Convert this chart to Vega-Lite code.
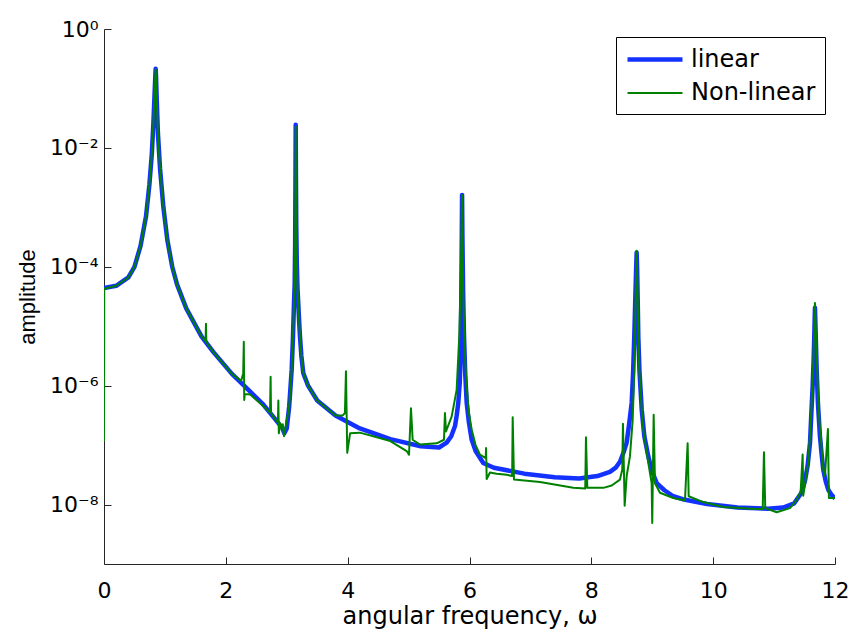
{
"$schema":"https://vega.github.io/schema/vega-lite/v6.json",
"width":731,"height":535,
"autosize":{"type":"none"},
"padding":{"left":104,"top":29,"right":21,"bottom":73},
"background":"white",
"config":{"view":{"stroke":null},"font":"DejaVu Sans",
"axis":{"domainColor":"#262626","tickColor":"#262626","labelColor":"black","titleColor":"black","labelFont":"DejaVu Sans","titleFont":"DejaVu Sans","labelFontSize":22,"titleFontSize":24,"titleFontWeight":"normal","grid":false,"tickSize":-7,"domainWidth":1,"tickWidth":1}},
"datasets":{
"lin":[
{"omega":0,"amp":4.37e-5,"series":"linear"},
{"omega":0.2,"amp":4.79e-5,"series":"linear"},
{"omega":0.4,"amp":6.61e-5,"series":"linear"},
{"omega":0.5,"amp":1.0e-4,"series":"linear"},
{"omega":0.6,"amp":2.24e-4,"series":"linear"},
{"omega":0.69,"amp":7.08e-4,"series":"linear"},
{"omega":0.745,"amp":2.40e-3,"series":"linear"},
{"omega":0.785,"amp":7.94e-3,"series":"linear"},
{"omega":0.81,"amp":2.51e-2,"series":"linear"},
{"omega":0.828,"amp":7.08e-2,"series":"linear"},
{"omega":0.842,"amp":1.58e-1,"series":"linear"},
{"omega":0.848,"amp":2.14e-1,"series":"linear"},
{"omega":0.854,"amp":1.58e-1,"series":"linear"},
{"omega":0.866,"amp":6.31e-2,"series":"linear"},
{"omega":0.885,"amp":1.78e-2,"series":"linear"},
{"omega":0.92,"amp":4.47e-3,"series":"linear"},
{"omega":0.975,"amp":1.0e-3,"series":"linear"},
{"omega":1.04,"amp":2.82e-4,"series":"linear"},
{"omega":1.12,"amp":1.0e-4,"series":"linear"},
{"omega":1.2,"amp":5.01e-5,"series":"linear"},
{"omega":1.35,"amp":2.0e-5,"series":"linear"},
{"omega":1.6,"amp":6.76e-6,"series":"linear"},
{"omega":1.8,"amp":3.63e-6,"series":"linear"},
{"omega":2.1,"amp":1.58e-6,"series":"linear"},
{"omega":2.4,"amp":7.94e-7,"series":"linear"},
{"omega":2.6,"amp":5.01e-7,"series":"linear"},
{"omega":2.8,"amp":2.82e-7,"series":"linear"},
{"omega":2.93,"amp":1.91e-7,"series":"linear"},
{"omega":2.96,"amp":1.58e-7,"series":"linear"},
{"omega":3.0,"amp":1.91e-7,"series":"linear"},
{"omega":3.04,"amp":4.47e-7,"series":"linear"},
{"omega":3.06,"amp":8.91e-7,"series":"linear"},
{"omega":3.081,"amp":1.86e-6,"series":"linear"},
{"omega":3.1,"amp":5.62e-6,"series":"linear"},
{"omega":3.119,"amp":2.45e-5,"series":"linear"},
{"omega":3.13,"amp":5.01e-5,"series":"linear"},
{"omega":3.138,"amp":2.51e-4,"series":"linear"},
{"omega":3.143,"amp":2.51e-3,"series":"linear"},
{"omega":3.147,"amp":2.45e-2,"series":"linear"},
{"omega":3.151,"amp":3.16e-3,"series":"linear"},
{"omega":3.156,"amp":5.01e-4,"series":"linear"},
{"omega":3.165,"amp":1.12e-4,"series":"linear"},
{"omega":3.176,"amp":4.47e-5,"series":"linear"},
{"omega":3.189,"amp":2.45e-5,"series":"linear"},
{"omega":3.2,"amp":1.41e-5,"series":"linear"},
{"omega":3.217,"amp":6.76e-6,"series":"linear"},
{"omega":3.24,"amp":3.16e-6,"series":"linear"},
{"omega":3.272,"amp":1.62e-6,"series":"linear"},
{"omega":3.35,"amp":1.0e-6,"series":"linear"},
{"omega":3.5,"amp":5.62e-7,"series":"linear"},
{"omega":3.8,"amp":3.16e-7,"series":"linear"},
{"omega":4.2,"amp":1.91e-7,"series":"linear"},
{"omega":4.7,"amp":1.26e-7,"series":"linear"},
{"omega":5.2,"amp":9.55e-8,"series":"linear"},
{"omega":5.5,"amp":9.12e-8,"series":"linear"},
{"omega":5.625,"amp":1.10e-7,"series":"linear"},
{"omega":5.7,"amp":1.41e-7,"series":"linear"},
{"omega":5.762,"amp":2.09e-7,"series":"linear"},
{"omega":5.79,"amp":3.16e-7,"series":"linear"},
{"omega":5.816,"amp":5.13e-7,"series":"linear"},
{"omega":5.84,"amp":1.12e-6,"series":"linear"},
{"omega":5.855,"amp":3.55e-6,"series":"linear"},
{"omega":5.862,"amp":1.26e-5,"series":"linear"},
{"omega":5.868,"amp":6.31e-5,"series":"linear"},
{"omega":5.874,"amp":3.98e-4,"series":"linear"},
{"omega":5.878,"amp":1.62e-3,"series":"linear"},
{"omega":5.884,"amp":3.16e-4,"series":"linear"},
{"omega":5.895,"amp":3.98e-5,"series":"linear"},
{"omega":5.91,"amp":6.76e-6,"series":"linear"},
{"omega":5.93,"amp":1.58e-6,"series":"linear"},
{"omega":5.954,"amp":5.13e-7,"series":"linear"},
{"omega":5.99,"amp":2.40e-7,"series":"linear"},
{"omega":6.036,"amp":1.23e-7,"series":"linear"},
{"omega":6.1,"amp":7.94e-8,"series":"linear"},
{"omega":6.226,"amp":5.01e-8,"series":"linear"},
{"omega":6.4,"amp":4.17e-8,"series":"linear"},
{"omega":6.9,"amp":3.31e-8,"series":"linear"},
{"omega":7.4,"amp":2.88e-8,"series":"linear"},
{"omega":7.8,"amp":2.75e-8,"series":"linear"},
{"omega":8.1,"amp":3.02e-8,"series":"linear"},
{"omega":8.306,"amp":3.55e-8,"series":"linear"},
{"omega":8.4,"amp":4.17e-8,"series":"linear"},
{"omega":8.47,"amp":5.25e-8,"series":"linear"},
{"omega":8.53,"amp":7.59e-8,"series":"linear"},
{"omega":8.58,"amp":1.10e-7,"series":"linear"},
{"omega":8.62,"amp":2.24e-7,"series":"linear"},
{"omega":8.662,"amp":5.13e-7,"series":"linear"},
{"omega":8.685,"amp":1.58e-6,"series":"linear"},
{"omega":8.705,"amp":6.76e-6,"series":"linear"},
{"omega":8.72,"amp":2.51e-5,"series":"linear"},
{"omega":8.735,"amp":8.91e-5,"series":"linear"},
{"omega":8.744,"amp":1.74e-4,"series":"linear"},
{"omega":8.752,"amp":8.91e-5,"series":"linear"},
{"omega":8.762,"amp":2.51e-5,"series":"linear"},
{"omega":8.771,"amp":6.76e-6,"series":"linear"},
{"omega":8.79,"amp":1.78e-6,"series":"linear"},
{"omega":8.827,"amp":3.98e-7,"series":"linear"},
{"omega":8.87,"amp":1.41e-7,"series":"linear"},
{"omega":8.935,"amp":6.46e-8,"series":"linear"},
{"omega":9.0,"amp":3.55e-8,"series":"linear"},
{"omega":9.073,"amp":2.29e-8,"series":"linear"},
{"omega":9.2,"amp":1.74e-8,"series":"linear"},
{"omega":9.345,"amp":1.38e-8,"series":"linear"},
{"omega":9.5,"amp":1.23e-8,"series":"linear"},
{"omega":9.9,"amp":1.02e-8,"series":"linear"},
{"omega":10.4,"amp":8.91e-9,"series":"linear"},
{"omega":10.9,"amp":8.51e-9,"series":"linear"},
{"omega":11.15,"amp":8.91e-9,"series":"linear"},
{"omega":11.33,"amp":1.05e-8,"series":"linear"},
{"omega":11.45,"amp":1.58e-8,"series":"linear"},
{"omega":11.507,"amp":2.51e-8,"series":"linear"},
{"omega":11.55,"amp":4.47e-8,"series":"linear"},
{"omega":11.59,"amp":1.10e-7,"series":"linear"},
{"omega":11.61,"amp":3.16e-7,"series":"linear"},
{"omega":11.633,"amp":9.77e-7,"series":"linear"},
{"omega":11.648,"amp":2.51e-6,"series":"linear"},
{"omega":11.66,"amp":6.76e-6,"series":"linear"},
{"omega":11.667,"amp":1.41e-5,"series":"linear"},
{"omega":11.671,"amp":2.04e-5,"series":"linear"},
{"omega":11.677,"amp":1.26e-5,"series":"linear"},
{"omega":11.685,"amp":6.31e-6,"series":"linear"},
{"omega":11.699,"amp":1.86e-6,"series":"linear"},
{"omega":11.72,"amp":5.01e-7,"series":"linear"},
{"omega":11.753,"amp":1.41e-7,"series":"linear"},
{"omega":11.78,"amp":7.08e-8,"series":"linear"},
{"omega":11.807,"amp":3.89e-8,"series":"linear"},
{"omega":11.85,"amp":2.40e-8,"series":"linear"},
{"omega":11.889,"amp":1.78e-8,"series":"linear"},
{"omega":11.94,"amp":1.48e-8,"series":"linear"},
{"omega":12.0,"amp":1.26e-8,"series":"linear"}
],
"nl":[
{"omega":0,"amp":1.15e-7,"series":"Non-linear"},
{"omega":0.004,"amp":4.27e-5,"series":"Non-linear"},
{"omega":0.2,"amp":4.79e-5,"series":"Non-linear"},
{"omega":0.4,"amp":6.61e-5,"series":"Non-linear"},
{"omega":0.5,"amp":1.0e-4,"series":"Non-linear"},
{"omega":0.6,"amp":2.24e-4,"series":"Non-linear"},
{"omega":0.69,"amp":7.08e-4,"series":"Non-linear"},
{"omega":0.745,"amp":2.40e-3,"series":"Non-linear"},
{"omega":0.785,"amp":7.94e-3,"series":"Non-linear"},
{"omega":0.81,"amp":2.51e-2,"series":"Non-linear"},
{"omega":0.828,"amp":7.08e-2,"series":"Non-linear"},
{"omega":0.842,"amp":1.58e-1,"series":"Non-linear"},
{"omega":0.848,"amp":2.1e-1,"series":"Non-linear"},
{"omega":0.854,"amp":1.58e-1,"series":"Non-linear"},
{"omega":0.866,"amp":6.31e-2,"series":"Non-linear"},
{"omega":0.885,"amp":1.78e-2,"series":"Non-linear"},
{"omega":0.92,"amp":4.47e-3,"series":"Non-linear"},
{"omega":0.975,"amp":1.0e-3,"series":"Non-linear"},
{"omega":1.04,"amp":2.82e-4,"series":"Non-linear"},
{"omega":1.12,"amp":1.0e-4,"series":"Non-linear"},
{"omega":1.2,"amp":5.01e-5,"series":"Non-linear"},
{"omega":1.35,"amp":2.0e-5,"series":"Non-linear"},
{"omega":1.6,"amp":6.76e-6,"series":"Non-linear"},
{"omega":1.668,"amp":5.62e-6,"series":"Non-linear"},
{"omega":1.674,"amp":1.10e-5,"series":"Non-linear"},
{"omega":1.68,"amp":5.37e-6,"series":"Non-linear"},
{"omega":1.8,"amp":3.63e-6,"series":"Non-linear"},
{"omega":2.1,"amp":1.58e-6,"series":"Non-linear"},
{"omega":2.25,"amp":1.2e-6,"series":"Non-linear"},
{"omega":2.285,"amp":1.58e-6,"series":"Non-linear"},
{"omega":2.295,"amp":5.50e-6,"series":"Non-linear"},
{"omega":2.302,"amp":5.75e-7,"series":"Non-linear"},
{"omega":2.31,"amp":7.24e-7,"series":"Non-linear"},
{"omega":2.4,"amp":7.08e-7,"series":"Non-linear"},
{"omega":2.6,"amp":4.68e-7,"series":"Non-linear"},
{"omega":2.725,"amp":3.55e-7,"series":"Non-linear"},
{"omega":2.735,"amp":1.41e-6,"series":"Non-linear"},
{"omega":2.742,"amp":3.47e-7,"series":"Non-linear"},
{"omega":2.8,"amp":2.82e-7,"series":"Non-linear"},
{"omega":2.855,"amp":2.40e-7,"series":"Non-linear"},
{"omega":2.862,"amp":5.62e-7,"series":"Non-linear"},
{"omega":2.87,"amp":1.58e-7,"series":"Non-linear"},
{"omega":2.89,"amp":2.34e-7,"series":"Non-linear"},
{"omega":2.91,"amp":1.91e-7,"series":"Non-linear"},
{"omega":2.935,"amp":2.24e-7,"series":"Non-linear"},
{"omega":2.955,"amp":1.41e-7,"series":"Non-linear"},
{"omega":2.98,"amp":2.0e-7,"series":"Non-linear"},
{"omega":3.04,"amp":4.47e-7,"series":"Non-linear"},
{"omega":3.06,"amp":8.91e-7,"series":"Non-linear"},
{"omega":3.081,"amp":1.86e-6,"series":"Non-linear"},
{"omega":3.1,"amp":5.62e-6,"series":"Non-linear"},
{"omega":3.119,"amp":2.45e-5,"series":"Non-linear"},
{"omega":3.13,"amp":5.01e-5,"series":"Non-linear"},
{"omega":3.138,"amp":2.51e-4,"series":"Non-linear"},
{"omega":3.143,"amp":2.51e-3,"series":"Non-linear"},
{"omega":3.147,"amp":2.3e-2,"series":"Non-linear"},
{"omega":3.151,"amp":3.16e-3,"series":"Non-linear"},
{"omega":3.156,"amp":5.01e-4,"series":"Non-linear"},
{"omega":3.165,"amp":1.12e-4,"series":"Non-linear"},
{"omega":3.176,"amp":4.47e-5,"series":"Non-linear"},
{"omega":3.189,"amp":2.45e-5,"series":"Non-linear"},
{"omega":3.2,"amp":1.41e-5,"series":"Non-linear"},
{"omega":3.217,"amp":6.76e-6,"series":"Non-linear"},
{"omega":3.24,"amp":3.16e-6,"series":"Non-linear"},
{"omega":3.272,"amp":1.62e-6,"series":"Non-linear"},
{"omega":3.35,"amp":1.0e-6,"series":"Non-linear"},
{"omega":3.5,"amp":5.62e-7,"series":"Non-linear"},
{"omega":3.8,"amp":3.16e-7,"series":"Non-linear"},
{"omega":3.92,"amp":3.16e-7,"series":"Non-linear"},
{"omega":3.955,"amp":3.47e-7,"series":"Non-linear"},
{"omega":3.972,"amp":1.74e-6,"series":"Non-linear"},
{"omega":3.993,"amp":7.41e-8,"series":"Non-linear"},
{"omega":4.04,"amp":1.58e-7,"series":"Non-linear"},
{"omega":4.2,"amp":1.62e-7,"series":"Non-linear"},
{"omega":4.7,"amp":1.17e-7,"series":"Non-linear"},
{"omega":4.969,"amp":7.94e-8,"series":"Non-linear"},
{"omega":5.007,"amp":6.92e-8,"series":"Non-linear"},
{"omega":5.039,"amp":4.17e-7,"series":"Non-linear"},
{"omega":5.067,"amp":1.23e-7,"series":"Non-linear"},
{"omega":5.187,"amp":1.02e-7,"series":"Non-linear"},
{"omega":5.461,"amp":1.07e-7,"series":"Non-linear"},
{"omega":5.581,"amp":1.23e-7,"series":"Non-linear"},
{"omega":5.597,"amp":3.47e-7,"series":"Non-linear"},
{"omega":5.614,"amp":1.70e-7,"series":"Non-linear"},
{"omega":5.707,"amp":3.02e-7,"series":"Non-linear"},
{"omega":5.789,"amp":8.51e-7,"series":"Non-linear"},
{"omega":5.832,"amp":6.76e-6,"series":"Non-linear"},
{"omega":5.86,"amp":8.91e-5,"series":"Non-linear"},
{"omega":5.871,"amp":5.01e-4,"series":"Non-linear"},
{"omega":5.877,"amp":1.62e-3,"series":"Non-linear"},
{"omega":5.885,"amp":3.16e-4,"series":"Non-linear"},
{"omega":5.895,"amp":3.98e-5,"series":"Non-linear"},
{"omega":5.909,"amp":1.29e-5,"series":"Non-linear"},
{"omega":5.93,"amp":2.5e-6,"series":"Non-linear"},
{"omega":5.954,"amp":9.77e-7,"series":"Non-linear"},
{"omega":5.99,"amp":3.5e-7,"series":"Non-linear"},
{"omega":6.036,"amp":1.82e-7,"series":"Non-linear"},
{"omega":6.1,"amp":1.0e-7,"series":"Non-linear"},
{"omega":6.172,"amp":6.92e-8,"series":"Non-linear"},
{"omega":6.266,"amp":6.03e-8,"series":"Non-linear"},
{"omega":6.272,"amp":8.91e-8,"series":"Non-linear"},
{"omega":6.282,"amp":2.69e-8,"series":"Non-linear"},
{"omega":6.336,"amp":3.47e-8,"series":"Non-linear"},
{"omega":6.446,"amp":3.31e-8,"series":"Non-linear"},
{"omega":6.611,"amp":3.16e-8,"series":"Non-linear"},
{"omega":6.7,"amp":3.02e-8,"series":"Non-linear"},
{"omega":6.709,"amp":2.95e-7,"series":"Non-linear"},
{"omega":6.73,"amp":2.63e-8,"series":"Non-linear"},
{"omega":7.157,"amp":2.40e-8,"series":"Non-linear"},
{"omega":7.704,"amp":1.91e-8,"series":"Non-linear"},
{"omega":7.9,"amp":1.86e-8,"series":"Non-linear"},
{"omega":7.912,"amp":1.35e-7,"series":"Non-linear"},
{"omega":7.934,"amp":1.91e-8,"series":"Non-linear"},
{"omega":8.196,"amp":1.91e-8,"series":"Non-linear"},
{"omega":8.334,"amp":2.09e-8,"series":"Non-linear"},
{"omega":8.47,"amp":2.63e-8,"series":"Non-linear"},
{"omega":8.508,"amp":3.89e-8,"series":"Non-linear"},
{"omega":8.519,"amp":2.29e-7,"series":"Non-linear"},
{"omega":8.547,"amp":9.55e-9,"series":"Non-linear"},
{"omega":8.58,"amp":3.02e-8,"series":"Non-linear"},
{"omega":8.634,"amp":6.46e-8,"series":"Non-linear"},
{"omega":8.679,"amp":2.69e-7,"series":"Non-linear"},
{"omega":8.705,"amp":1.86e-6,"series":"Non-linear"},
{"omega":8.72,"amp":1.2e-5,"series":"Non-linear"},
{"omega":8.735,"amp":8.91e-5,"series":"Non-linear"},
{"omega":8.744,"amp":1.86e-4,"series":"Non-linear"},
{"omega":8.752,"amp":8.91e-5,"series":"Non-linear"},
{"omega":8.762,"amp":2.45e-5,"series":"Non-linear"},
{"omega":8.787,"amp":1.86e-6,"series":"Non-linear"},
{"omega":8.82,"amp":5.0e-7,"series":"Non-linear"},
{"omega":8.853,"amp":1.82e-7,"series":"Non-linear"},
{"omega":8.935,"amp":5.01e-8,"series":"Non-linear"},
{"omega":8.99,"amp":2.29e-8,"series":"Non-linear"},
{"omega":9.0,"amp":4.90e-9,"series":"Non-linear"},
{"omega":9.023,"amp":3.24e-7,"series":"Non-linear"},
{"omega":9.045,"amp":2.29e-8,"series":"Non-linear"},
{"omega":9.127,"amp":1.58e-8,"series":"Non-linear"},
{"omega":9.345,"amp":1.29e-8,"series":"Non-linear"},
{"omega":9.537,"amp":1.17e-8,"series":"Non-linear"},
{"omega":9.581,"amp":1.07e-7,"series":"Non-linear"},
{"omega":9.598,"amp":1.38e-8,"series":"Non-linear"},
{"omega":9.837,"amp":1.10e-8,"series":"Non-linear"},
{"omega":10.166,"amp":9.12e-9,"series":"Non-linear"},
{"omega":10.632,"amp":8.51e-9,"series":"Non-linear"},
{"omega":10.813,"amp":8.32e-9,"series":"Non-linear"},
{"omega":10.834,"amp":7.59e-8,"series":"Non-linear"},
{"omega":10.855,"amp":8.71e-9,"series":"Non-linear"},
{"omega":11.042,"amp":7.41e-9,"series":"Non-linear"},
{"omega":11.26,"amp":8.71e-9,"series":"Non-linear"},
{"omega":11.371,"amp":1.20e-8,"series":"Non-linear"},
{"omega":11.436,"amp":1.66e-8,"series":"Non-linear"},
{"omega":11.469,"amp":6.92e-8,"series":"Non-linear"},
{"omega":11.479,"amp":1.41e-8,"series":"Non-linear"},
{"omega":11.561,"amp":5.01e-8,"series":"Non-linear"},
{"omega":11.59,"amp":1.5e-7,"series":"Non-linear"},
{"omega":11.617,"amp":5.13e-7,"series":"Non-linear"},
{"omega":11.64,"amp":2.0e-6,"series":"Non-linear"},
{"omega":11.655,"amp":6.76e-6,"series":"Non-linear"},
{"omega":11.665,"amp":1.6e-5,"series":"Non-linear"},
{"omega":11.671,"amp":2.45e-5,"series":"Non-linear"},
{"omega":11.678,"amp":1.4e-5,"series":"Non-linear"},
{"omega":11.688,"amp":7.0e-6,"series":"Non-linear"},
{"omega":11.699,"amp":3.55e-6,"series":"Non-linear"},
{"omega":11.72,"amp":8.0e-7,"series":"Non-linear"},
{"omega":11.742,"amp":2.69e-7,"series":"Non-linear"},
{"omega":11.765,"amp":1.41e-7,"series":"Non-linear"},
{"omega":11.807,"amp":3.89e-8,"series":"Non-linear"},
{"omega":11.835,"amp":3.02e-8,"series":"Non-linear"},
{"omega":11.884,"amp":1.86e-7,"series":"Non-linear"},
{"omega":11.9,"amp":1.29e-8,"series":"Non-linear"},
{"omega":12.0,"amp":1.29e-8,"series":"Non-linear"}
]},
"encoding":{
"x":{"field":"omega","type":"quantitative","scale":{"domain":[0,12],"nice":false,"zero":false},
 "axis":{"values":[0,2,4,6,8,10,12],"title":"angular frequency, ω","labelPadding":23,"titlePadding":3,"labelFlush":false}},
"y":{"field":"amp","type":"quantitative","scale":{"type":"log","domain":[1e-9,1],"nice":false},
 "axis":{"values":[1e-8,1e-6,1e-4,1e-2,1],"title":"amplitude","titleFont":"Liberation Sans","titleFontSize":22,"labelPadding":13,"titlePadding":10,"labelBaseline":"middle",
 "labelExpr":"datum.value >= 0.5 ? '10⁰' : datum.value >= 0.005 ? '10⁻²' : datum.value >= 5e-5 ? '10⁻⁴' : datum.value >= 5e-7 ? '10⁻⁶' : '10⁻⁸'"}},
"color":{"field":"series","type":"nominal","scale":{"domain":["linear","Non-linear"],"range":["#1432ff","#008000"]},
 "legend":{"title":null,"orient":"none","legendX":512,"legendY":8,"symbolType":"M-1,0H4","symbolSize":484,"labelFontSize":24,"labelFont":"DejaVu Sans","labelColor":"black","strokeColor":"black","fillColor":"white","padding":9,"rowPadding":9,"labelOffset":39}},
"strokeWidth":{"field":"series","type":"nominal","scale":{"domain":["linear","Non-linear"],"range":[4.5,2]},
 "legend":{"title":null,"orient":"none","legendX":512,"legendY":8,"symbolType":"M-1,0H4","symbolSize":484,"labelFontSize":24,"labelFont":"DejaVu Sans","labelColor":"black","strokeColor":"black","fillColor":"white","padding":9,"rowPadding":9,"labelOffset":39}}
},
"layer":[
{"data":{"name":"lin"},"mark":{"type":"line","clip":true,"strokeJoin":"round"}},
{"data":{"name":"nl"},"mark":{"type":"line","clip":true,"strokeJoin":"round"}}
]
}
